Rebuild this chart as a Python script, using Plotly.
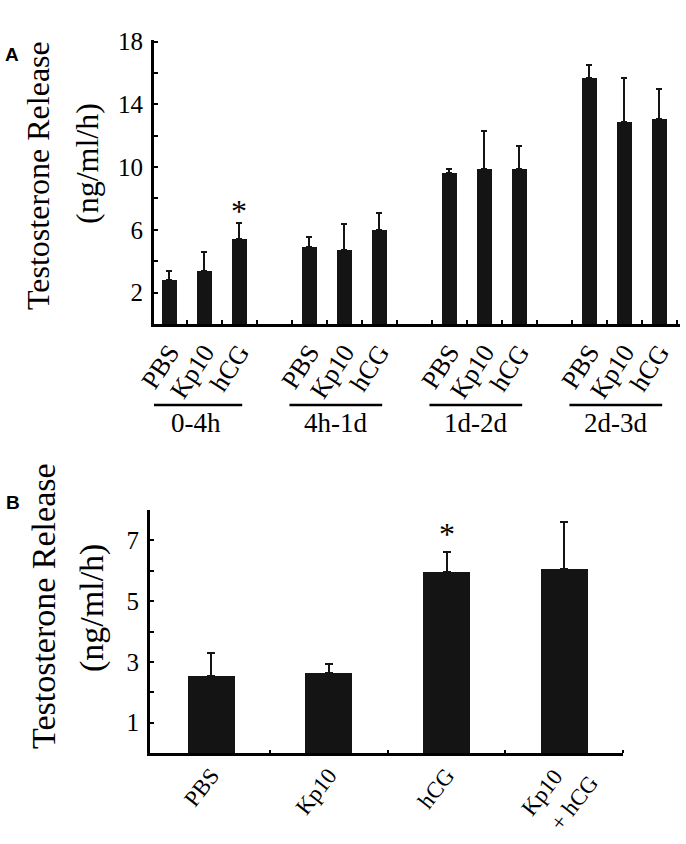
import plotly.graph_objects as go

# ---- data --------------------------------------------------------------------
GROUPS_A = ["0-4h", "4h-1d", "1d-2d", "2d-3d"]
TREAT_A = ["PBS", "Kp10", "hCG"]
MEAN_A = [2.8, 3.4, 5.4, 4.9, 4.7, 6.0, 9.6, 9.85, 9.85, 15.65, 12.85, 13.05]
UPPER_A = [3.4, 4.6, 6.45, 5.55, 6.35, 7.05, 9.85, 12.3, 11.35, 16.5, 15.65, 14.95]
STAR_A = [False, False, True, False, False, False,
          False, False, False, False, False, False]

LABELS_B = ["PBS", "Kp10", "hCG", "Kp10<br>+ hCG"]
MEAN_B = [2.55, 2.65, 5.95, 6.05]
UPPER_B = [3.3, 2.93, 6.62, 7.6]
STAR_B = [False, False, True, False]

SERIF = "Liberation Serif, Times New Roman, serif"
BAR = "#141414"

# x positions: three bars per group, one empty slot between groups
x_a = [g * 4 + i for g in range(len(GROUPS_A)) for i in range(len(TREAT_A))]
txt_a = [t for _ in GROUPS_A for t in TREAT_A]
x_b = list(range(len(LABELS_B)))

# the two-line label is drawn line by line; the rest stay as tick labels
ticktext_b = [t if "<br>" not in t else "" for t in LABELS_B]

fig = go.Figure()
fig.add_bar(x=x_a, y=MEAN_A, width=0.44, marker=dict(color=BAR, line=dict(width=0)),
            error_y=dict(type="data", symmetric=False,
                         array=[u - m for u, m in zip(UPPER_A, MEAN_A)],
                         arrayminus=[0] * len(MEAN_A),
                         color=BAR, thickness=2, width=3),
            xaxis="x", yaxis="y", showlegend=False)
fig.add_bar(x=x_b, y=MEAN_B, width=0.40, marker=dict(color=BAR, line=dict(width=0)),
            error_y=dict(type="data", symmetric=False,
                         array=[u - m for u, m in zip(UPPER_B, MEAN_B)],
                         arrayminus=[0] * len(MEAN_B),
                         color=BAR, thickness=2, width=4),
            xaxis="x2", yaxis="y2", showlegend=False)

axis_common = dict(showline=True, linecolor="black", showgrid=False, zeroline=False,
                   automargin=False,
                   tickfont=dict(family=SERIF, size=25, color="black"))

fig.update_layout(
    width=686, height=844, margin=dict(l=0, r=0, t=0, b=0),
    paper_bgcolor="white", plot_bgcolor="white", bargap=0,
    xaxis=dict(axis_common, domain=[0.2245, 0.9913], range=[-0.44, 14.59],
               anchor="y", linewidth=2.5, tickvals=x_a, ticktext=txt_a,
               tickangle=-57, ticks="", ticklabelstandoff=0,
               tickfont=dict(family=SERIF, size=26, color="black"),
               minor=dict(tickvals=[v + 0.5 for v in range(-1, 15)], ticks="inside",
                          ticklen=4, tickwidth=2, tickcolor="black")),
    yaxis=dict(axis_common, domain=[0.6161, 0.9526], range=[0, 18.1],
               anchor="x", linewidth=3, tickvals=[2, 6, 10, 14, 18],
               ticks="inside", ticklen=4, tickwidth=2, tickcolor="black",
               ticklabelstandoff=3,
               minor=dict(tickvals=[4, 8, 12, 16], ticks="inside",
                          ticklen=4, tickwidth=2, tickcolor="black")),
    xaxis2=dict(axis_common, domain=[0.2187, 0.9082], range=[-0.52, 3.5],
                anchor="y2", linewidth=2.5, tickvals=x_b, ticktext=ticktext_b,
                tickangle=-52, ticks="", ticklabelstandoff=-3,
                tickfont=dict(family=SERIF, size=23, color="black"),
                minor=dict(tickvals=[0.5, 1.5, 2.5, 3.5], ticks="inside",
                           ticklen=3, tickwidth=2, tickcolor="black")),
    yaxis2=dict(axis_common, domain=[0.1078, 0.3957], range=[0, 8.0],
                anchor="x2", linewidth=3, tickvals=[1, 3, 5, 7],
                ticks="inside", ticklen=4, tickwidth=2, tickcolor="black",
                ticklabelstandoff=3,
                minor=dict(tickvals=[2, 4, 6, 8], ticks="inside",
                           ticklen=4, tickwidth=2, tickcolor="black")),
)

# two-line rotated label under the last bar of panel B
for x, t in zip(x_b, LABELS_B):
    if "<br>" in t:
        for k, line in enumerate(t.split("<br>")):
            fig.add_annotation(x=x - 0.19 + 0.27 * k, y=1 - (792 + 11 * k) / 844,
                               xref="x2", yref="paper", text=line, textangle=-52,
                               showarrow=False, xanchor="center", yanchor="middle",
                               font=dict(family=SERIF, size=23, color="black"))

# significance stars
for x, m, u, s in zip(x_a, MEAN_A, UPPER_A, STAR_A):
    if s:
        fig.add_annotation(x=x, y=u, xref="x", yref="y", text="*", showarrow=False,
                           yanchor="bottom", yshift=-8,
                           font=dict(family=SERIF, size=32, color="black"))
for x, m, u, s in zip(x_b, MEAN_B, UPPER_B, STAR_B):
    if s:
        fig.add_annotation(x=x, y=u, xref="x2", yref="y2", text="*", showarrow=False,
                           yanchor="bottom", yshift=-2,
                           font=dict(family=SERIF, size=32, color="black"))

# group underlines + labels under panel A
for g, name in enumerate(GROUPS_A):
    s = g * 4
    x0, x1 = s - 0.57, s + 2.08
    fig.add_shape(type="line", xref="x", yref="paper", x0=x0, x1=x1,
                  y0=1 - 405 / 844, y1=1 - 405 / 844, line=dict(color="black", width=2.5))
    fig.add_annotation(x=(x0 + x1) / 2, y=1 - 423 / 844, xref="x", yref="paper",
                       text=name, showarrow=False, yanchor="middle",
                       font=dict(family=SERIF, size=27, color="black"))

# y titles (two separate lines, wider spacing than plotly's default)
for xc, yc, txt, size in [(38, 176, "Testosterone Release", 32), (87, 164, "(ng/ml/h)", 32),
                          (43, 606, "Testosterone Release", 34), (92, 608, "(ng/ml/h)", 34)]:
    fig.add_annotation(x=xc / 686, y=1 - yc / 844, xref="paper", yref="paper",
                       text=txt, textangle=-90, showarrow=False,
                       xanchor="center", yanchor="middle",
                       font=dict(family=SERIF, size=size, color="black"))

# panel letters
for xc, yc, txt in [(12, 55, "A"), (12.5, 502, "B")]:
    fig.add_annotation(x=xc / 686, y=1 - yc / 844, xref="paper", yref="paper",
                       text="<b>" + txt + "</b>", showarrow=False,
                       xanchor="center", yanchor="middle",
                       font=dict(family="Liberation Sans, Arial, sans-serif", size=19, color="black"))

# drop the browser's default body margin so the figure sits at the window corner
fig.write_html("out.html", config={"displayModeBar": False},
               post_script="document.body.style.margin='0';")
